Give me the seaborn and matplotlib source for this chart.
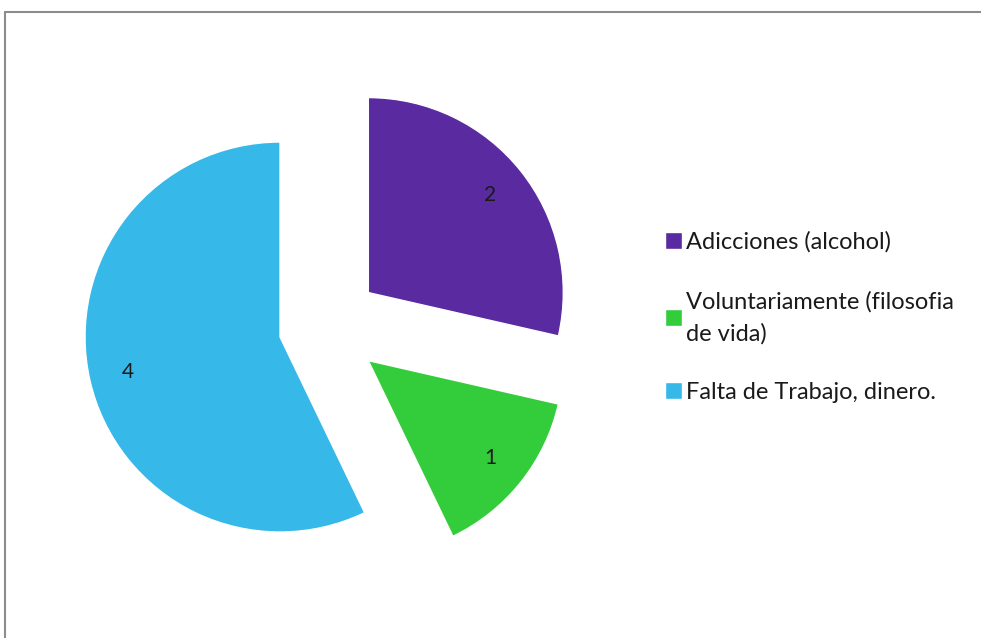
import matplotlib
matplotlib.use("Agg")
import matplotlib.pyplot as plt
import seaborn as sns
from matplotlib.lines import Line2D

# data
labels = ["Adicciones (alcohol)", "Voluntariamente (filosofia\nde vida)", "Falta de Trabajo, dinero."]
values = [2, 1, 4]
colors = ["#5A2AA0", "#33CC3A", "#36B8E8"]
explode = [0.28, 0.28, 0.24]

sns.set_theme(style="white")
plt.rcParams['font.family'] = ['Lato', 'DejaVu Sans']

fig = plt.figure(figsize=(9.81, 6.38), dpi=100)
ax = fig.add_axes([0, 0, 1, 1])

total = sum(values)
wedges, _, autotexts = ax.pie(
    values, colors=sns.color_palette(colors), explode=explode,
    startangle=90, counterclock=False, radius=1,
    autopct=lambda p: f"{round(p * total / 100)}", pctdistance=0.8,
    textprops=dict(fontsize=15, color="#1a1a1a"),
)

ax.set_xlim(-1.670, 3.361)
ax.set_ylim(-1.597, 1.675)
ax.set_aspect("equal")
ax.axis("off")

leg = ax.legend(wedges, labels, loc="center left", bbox_to_anchor=(665 / 981, 0.503),
                bbox_transform=fig.transFigure, frameon=False, fontsize=17,
                handlelength=0.7, handleheight=0.7, handletextpad=0.2,
                labelspacing=1.6, borderpad=0, borderaxespad=0)
for t in leg.get_texts():
    t.set_linespacing(1.6)
    t.set_color("#1a1a1a")

# outer chart frame (top and left edges visible)
fig.add_artist(Line2D([5 / 981, 1], [1 - 12 / 638, 1 - 12 / 638], color="#8c8c8c", lw=1.5, transform=fig.transFigure))
fig.add_artist(Line2D([5 / 981, 5 / 981], [0, 1 - 12 / 638], color="#8c8c8c", lw=1.5, transform=fig.transFigure))

fig.savefig("out.png", dpi=100)
